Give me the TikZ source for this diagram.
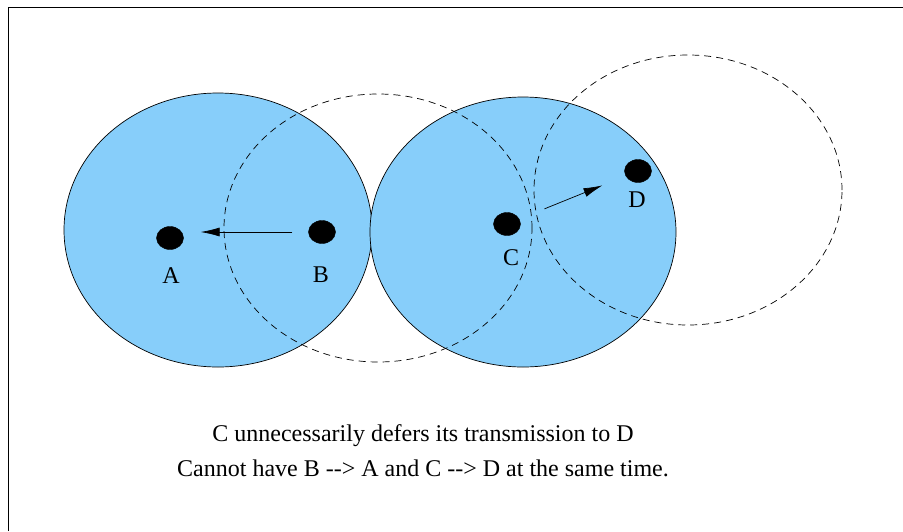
\documentclass[tikz,border=0pt]{standalone}
\usepackage{fontspec}
\setmainfont{Liberation Serif}
\usetikzlibrary{arrows.meta,shapes.geometric,positioning}
\definecolor{rangeblue}{RGB}{135,206,250}
\tikzset{
  station/.style={draw,ellipse,fill=black,minimum width=27pt,minimum height=23pt,inner sep=0pt},
  txrange/.style={draw=black,fill=rangeblue,line width=0.7pt},
  carrier/.style={draw=black,dash pattern=on 7pt off 5pt,line width=0.7pt},
  tx/.style={-{Latex[length=19pt,width=9pt]},line width=0.7pt},
  tag/.style={inner sep=0pt,font=\fontsize{24}{28}\selectfont},
}
\begin{document}
\begin{tikzpicture}[x=1pt,y=-1pt,font=\fontsize{24}{28}\selectfont]
  \useasboundingbox (0,0) rectangle (903,531);
  %frame
  \draw[line width=0.8pt] (8,531) -- (8,7) -- (903,7);

  %transmission ranges of A and C
  \draw[txrange] (218,230) ellipse [x radius=154pt,y radius=137pt];
  \draw[txrange] (523,232) ellipse [x radius=153pt,y radius=135pt];

  %ranges of B and D
  \draw[carrier] (378,228) ellipse [x radius=154pt,y radius=134pt];
  \draw[carrier] (688,190) ellipse [x radius=154pt,y radius=135pt];

  %stations
  \node[station] (A) at (170,238) {};
  \node[station] (B) at (322,232) {};
  \node[station] (C) at (507,224) {};
  \node[station] (D) at (638,171) {};
  \node[tag] (labA) at (171,276) {A};
  \node[tag] (labB) at (321,275) {B};
  \node[tag] (labC) at (511,258) {C};
  \node[tag] (labD) at (637,200) {D};

  %transmissions
  \draw[tx,shorten <=16pt,shorten >=17pt] (B.west) -- (A.east |- B.west);
  \draw[tx,shorten <=27pt,shorten >=25pt] (C) -- (D);

  %caption
  \node (note1) at (423,436) {C unnecessarily defers its transmission to D};
  \node (note2) at (423,468) {Cannot have B -{}-{}> A and C -{}-{}> D at the same time.};
\end{tikzpicture}
\end{document}
